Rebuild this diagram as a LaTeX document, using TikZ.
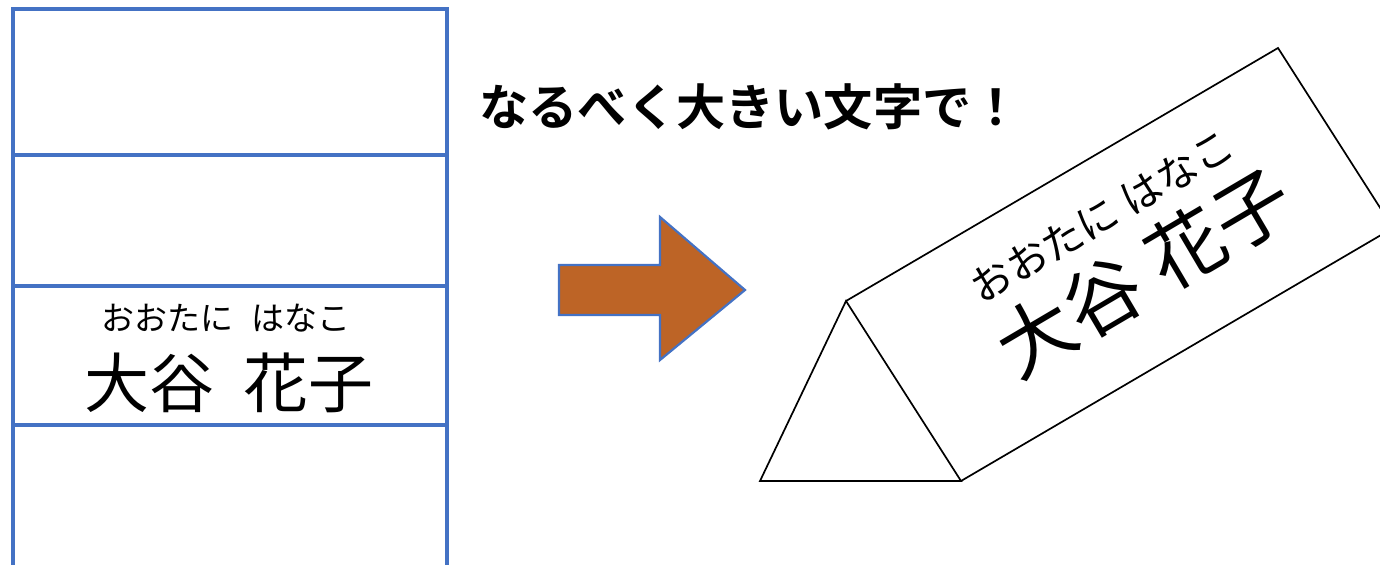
\documentclass[tikz,border=0pt]{standalone}
\usepackage{fontspec}
\usetikzlibrary{calc}
\newfontfamily\jp{Noto Sans CJK JP}
\newfontfamily\jpbold{Noto Sans CJK JP Bold}
\definecolor{frameblue}{RGB}{68,114,196}
\definecolor{arrowfill}{RGB}{189,100,38}
\begin{document}
\begin{tikzpicture}[x=0.5pt,y=-0.5pt,
  sheetline/.style={draw=frameblue,line width=1.6pt},
  prismline/.style={draw=black,line width=0.85pt,line join=miter},
  label/.style={inner sep=0pt,anchor=center}]
\useasboundingbox (0,0) rectangle (1380,565);
\clip (0,0) rectangle (1380,565);

% name sheet, folded into four strips
\draw[sheetline] (13,575) -- (13,9) -- (447,9) -- (447,575);
\draw[sheetline] (13,155) -- (447,155);
\draw[sheetline] (13,286) -- (447,286);
\draw[sheetline] (13,425) -- (447,425);
\node[label,font=\jp\fontsize{16.5pt}{18pt}\selectfont] (kanaL) at (226,318) {おおたに\hspace{0.55em}はなこ};
\node[label,font=\jp\fontsize{32.5pt}{35pt}\selectfont] (nameL) at (229,383) {大谷\hspace{0.45em}花子};

% heading
\node[label,font=\jpbold\fontsize{24.6pt}{26pt}\selectfont] (head) at (750,107) {なるべく大きい文字で！};

% block arrow
\draw[draw=frameblue,line width=1.1pt,fill=arrowfill,line join=miter]
  (559,265) -- (660,265) -- (660,217) -- (745,290) -- (660,360) -- (660,315) -- (559,315) -- cycle;

% folded name plate
\coordinate (A) at (846,301);
\coordinate (BL) at (760,481);
\coordinate (BR) at (961,481);
\coordinate (T) at (1278,48);
\coordinate (R) at ($(T)+(115,180)$);
\coordinate (RB) at ($(BR)+(432,-253)$);
\draw[prismline] (BL) -- (A) -- (BR) -- cycle;
\draw[prismline] (A) -- (T) -- (R);
\draw[prismline] (BR) -- (RB);
\node[label,rotate=30.5,font=\jp\fontsize{20.5pt}{22pt}\selectfont] (kanaR) at (1102,216) {おおたに\hspace{0.25em}はなこ};
\node[label,rotate=30.5,font=\jp\fontsize{38.5pt}{41pt}\selectfont] (nameR) at (1144,272) {大谷\hspace{0.25em}花子};
\end{tikzpicture}
\end{document}
